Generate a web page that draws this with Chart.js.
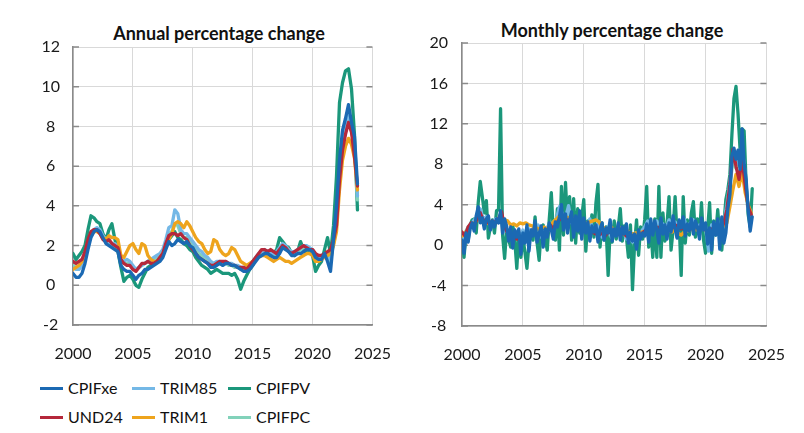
<!DOCTYPE html>
<html><head><meta charset="utf-8">
<script src="https://cdn.jsdelivr.net/npm/chart.js@4.4.1/dist/chart.umd.min.js"></script>
<style>
html,body{margin:0;padding:0;background:#fff;width:804px;height:433px;overflow:hidden;font-family:Lato,sans-serif;color:#111}
canvas{position:absolute;top:0}
.title{position:absolute;width:400px;text-align:center;font-weight:bold;font-size:18px;line-height:20px;color:#111}
.leg{position:absolute;font-size:16px;line-height:20px;color:#111;white-space:nowrap}
.leg span.sw{position:absolute;width:23px;height:3px;top:9px}
.leg span.tx{position:absolute;left:28px;top:0}
</style></head><body>
<div class="title" id="t1" style="left:19px;top:23px">Annual percentage change</div>
<div class="title" id="t2" style="left:412px;top:20px">Monthly percentage change</div>
<canvas id="c1" width="410" height="372" style="left:0"></canvas>
<canvas id="c2" width="394" height="372" style="left:410px"></canvas>
<div id="legend"></div>
<script>
// ---- names / colours ----
const seriesNames = ['CPIFxe','TRIM85','CPIFPV','UND24','TRIM1','CPIFPC'];
const xTicks = [2000,2005,2010,2015,2020,2025];
const annualTicks = [-2,0,2,4,6,8,10,12];
const monthlyTicks = [-8,-4,0,4,8,12,16,20];

// ---- Annual percentage change (quarterly readings, 2000Q1..2023Q4) ----
const annCPIFxe = [
0.6,0.4,0.4,0.6, 1.1,1.8,2.4,2.7, 2.8,2.7,2.4,2.1, 2.0,1.9,1.8,1.7,
1.0,0.8,0.7,0.7, 0.5,0.3,0.5,0.6, 0.8,0.8,0.9,1.0, 1.1,1.2,1.4,1.8,
2.2,2.0,2.1,2.3, 2.2,2.1,2.2,2.0, 1.9,1.6,1.4,1.3, 1.2,1.1,0.9,0.9,
1.0,1.1,1.0,1.1, 1.1,1.0,1.0,0.9, 0.8,0.7,0.7,0.8, 1.0,1.2,1.4,1.5,
1.6,1.6,1.5,1.4, 1.4,1.6,1.9,1.8, 1.7,1.5,1.5,1.6, 1.6,1.7,1.8,1.8,
1.7,1.4,1.3,1.3, 1.6,1.2,0.7,2.3, 4.0,6.3,7.8,8.4, 9.1,8.2,7.5,5.1];
const annTRIM85 = [
0.9,0.8,0.8,1.0, 1.4,2.0,2.5,2.8, 2.9,2.8,2.5,2.3, 2.2,2.1,2.1,1.9,
1.3,1.2,1.3,1.2, 1.0,0.8,0.9,1.0, 1.1,1.2,1.3,1.4, 1.5,1.6,1.8,2.3,
2.9,3.0,3.8,3.6, 2.8,2.6,2.6,2.4, 2.2,2.0,1.8,1.7, 1.5,1.4,1.2,1.1,
1.2,1.2,1.1,1.2, 1.1,1.1,1.0,1.0, 0.9,0.9,0.9,1.0, 1.2,1.4,1.6,1.7,
1.8,1.7,1.6,1.6, 1.7,1.9,2.1,2.0, 1.8,1.7,1.7,1.8, 1.9,2.0,2.0,1.9,
1.8,1.5,1.4,1.4, 1.6,1.5,1.3,2.2, 3.3,5.6,7.0,7.9, 8.6,7.9,7.1,4.5];
const annCPIFPV = [
1.6,1.3,1.5,1.7, 2.0,2.8,3.5,3.4, 3.2,3.1,2.6,2.3, 2.8,3.1,2.3,1.7,
0.9,0.2,0.4,0.5, 0.3,0.0,-0.1,0.3, 0.6,0.9,1.0,1.1, 1.2,1.4,1.6,2.0,
2.3,2.5,2.7,2.4, 2.3,2.1,2.0,1.8, 1.7,1.4,1.2,1.0, 0.9,0.8,0.6,0.7,
0.8,0.7,0.6,0.6, 0.6,0.5,0.6,0.3, -0.2,0.2,0.5,0.8, 1.0,1.3,1.5,1.6,
1.7,1.6,1.5,1.6, 1.8,2.4,2.2,2.0, 1.9,1.6,1.5,1.7, 2.2,1.8,1.6,1.7,
1.5,0.7,1.0,1.2, 1.8,2.4,1.6,3.0, 5.5,9.2,10.2,10.8, 10.9,9.9,7.6,3.8];
const annUND24 = [
1.2,1.1,1.2,1.3, 1.7,2.3,2.7,2.8, 2.8,2.6,2.3,2.2, 2.3,2.1,2.0,1.9,
1.3,1.1,1.0,1.0, 0.8,0.7,0.9,1.1, 1.1,1.2,1.1,1.1, 1.2,1.4,1.6,2.1,
2.5,2.6,2.6,2.5, 2.6,2.4,2.3,2.0, 1.8,1.6,1.4,1.3, 1.2,1.1,1.0,1.0,
1.1,1.2,1.2,1.2, 1.1,1.0,1.0,0.9, 0.9,0.9,0.8,1.0, 1.2,1.4,1.6,1.8,
1.8,1.7,1.8,1.7, 1.6,1.8,2.0,1.9, 1.7,1.6,1.7,1.8, 1.9,2.0,1.9,1.8,
1.8,1.6,1.5,1.5, 1.6,1.7,1.8,2.3, 3.0,5.3,6.8,7.6, 8.2,7.7,6.5,5.0];
const annTRIM1 = [
0.8,0.9,1.0,1.2, 1.6,2.2,2.6,2.7, 2.7,2.6,2.4,2.3, 2.5,2.4,2.4,2.3,
1.5,1.4,1.7,2.0, 2.1,1.8,1.6,2.1, 2.0,1.5,1.3,1.2, 1.2,1.4,1.6,1.9,
2.3,2.6,3.1,3.2, 3.1,2.9,3.2,3.0, 2.7,2.4,2.2,2.1, 1.8,1.6,1.7,2.3,
2.2,1.8,1.6,1.5, 1.6,1.9,1.8,1.5, 1.2,1.1,1.0,1.1, 1.2,1.3,1.4,1.5,
1.5,1.4,1.3,1.2, 1.3,1.4,1.3,1.2, 1.2,1.1,1.2,1.3, 1.4,1.5,1.6,1.6,
1.5,1.2,1.2,1.3, 1.4,1.5,1.6,2.0, 2.7,4.8,6.3,7.0, 7.4,7.1,6.4,4.8];
const annCPIFPC = [
1.0,0.9,0.9,1.1, 1.5,2.1,2.6,2.8, 2.8,2.7,2.4,2.2, 2.1,2.0,1.9,1.8,
1.2,1.1,1.1,1.1, 0.9,0.8,0.9,1.0, 1.1,1.2,1.2,1.3, 1.4,1.5,1.7,2.1,
2.6,2.7,3.1,3.0, 2.6,2.4,2.4,2.2, 2.0,1.8,1.6,1.5, 1.4,1.3,1.1,1.0,
1.1,1.1,1.0,1.1, 1.0,1.0,0.9,0.9, 0.8,0.8,0.8,0.9, 1.1,1.3,1.5,1.6,
1.7,1.6,1.6,1.5, 1.6,1.8,2.0,1.9, 1.8,1.6,1.6,1.7, 1.8,1.9,1.9,1.8,
1.7,1.4,1.3,1.3, 1.5,1.4,1.2,2.1, 3.2,5.5,6.9,7.8, 8.5,7.8,7.0,4.3];

// ---- Monthly percentage change ----
// bimonthly readings (2000 Jan..2023 Nov)
const monCPIFxe = [
0.5,-0.8,1.2,0.3,1.6,2.2,  1.4,2.9,3.8,2.2,2.7,1.6,  2.6,2.9,1.5,2.4,1.8,2.6,
2.2,3.4,1.2,2.6,1.9,0.4,  1.8,-0.3,1.5,0.8,1.6,-0.9, 1.2,0.2,2.0,-0.6,1.5,0.9,
2.4,0.3,1.1,1.9,-0.2,1.6, 0.8,2.2,1.5,0.6,2.3,1.8,  2.8,4.0,1.5,3.1,1.2,2.5,
3.3,0.8,2.9,1.4,3.4,0.6,  2.7,1.2,2.3,0.4,1.9,1.3,  2.0,0.3,1.6,2.2,0.5,1.7,
1.2,2.5,0.4,1.6,0.9,2.2,  0.5,1.8,1.1,2.1,0.2,1.3,  0.4,1.1,-0.4,1.5,0.6,1.2,
0.9,2.1,0.3,2.6,1.0,2.4,  1.5,0.2,2.7,1.1,2.0,0.6,  2.2,1.3,2.9,1.6,0.7,2.5,
1.7,2.8,0.9,2.1,1.4,2.6,  1.1,2.4,1.8,0.6,2.7,1.5,  2.2,0.1,1.7,-0.5,2.3,1.0,
2.6,-0.4,2.8,0.2,1.2,3.6, 5.0,8.8,9.6,8.5,9.4,7.5,  11.5,8.0,6.5,3.5,1.4,2.8];
const monCPIFPV = [
0.8,-1.2,1.3,0.4,2.0,2.5,  2.6,1.2,4.2,6.3,4.8,3.2,  4.4,0.7,1.8,2.5,1.2,3.4,
3.5,13.5,1.0,-1.3,1.6,0.5, -0.2,2.0,0.5,-2.3,1.2,-1.2, 0.8,-0.7,-2.3,0.2,1.4,0.5,
2.8,0.2,-1.5,1.5,2.0,0.6,  -0.5,2.6,5.2,1.3,0.5,3.6, -0.5,5.8,1.0,6.2,2.0,4.8,
0.5,4.6,0.2,3.6,1.2,2.8,   4.5,-0.6,2.4,1.0,3.0,0.8, 4.2,6.0,-0.2,2.2,0.5,1.8,
-3.0,1.5,0.3,2.4,0.6,1.8,  3.6,0.4,1.9,0.8,-1.2,2.0, -4.4,0.0,2.5,-1.0,1.8,0.6,
2.5,5.8,-0.2,1.9,-1.2,2.6, -1.2,5.8,-1.2,3.2,0.4,2.0, 4.8,-0.5,1.5,4.8,0.8,2.2,
-3.0,4.8,0.2,2.5,1.0,3.2,  4.3,0.8,2.6,1.0,4.2,0.5,  -0.8,1.5,4.2,-0.8,2.4,1.0,
3.5,1.0,-0.5,2.0,4.5,5.5,  7.0,11.0,14.5,15.7,13.0,9.5, 11.5,11.3,6.0,3.0,1.8,5.6];
// quarterly readings (2000Q1..2023Q4)
const monTRIM85 = [
0.2,1.0,1.6,2.0, 2.5,2.8,3.6,2.6, 2.8,2.0,2.3,2.6, 2.4,2.9,1.4,1.5,
1.2,0.8,1.3,0.6, 1.5,0.4,1.6,1.0, 1.4,2.0,0.8,1.3, 1.8,1.5,2.3,2.6,
3.8,3.1,2.7,3.9, 2.2,2.6,1.8,2.4, 2.1,1.8,2.6,1.5, 1.2,2.3,0.8,1.5,
1.8,0.8,1.4,1.2, 0.9,1.6,0.6,1.0, 0.3,1.2,0.9,1.4, 1.8,2.4,1.2,1.9,
2.4,1.3,2.1,1.6, 2.5,1.7,2.3,1.8, 2.0,2.6,1.4,2.2, 2.5,1.6,2.0,1.7,
1.9,-0.6,2.0,1.2, 2.4,0.8,2.3,4.0, 6.2,9.0,8.0,8.6, 9.8,7.0,3.5,2.4];
const monUND24 = [
1.3,0.9,1.8,2.2, 2.0,2.6,3.2,2.4, 2.5,2.1,2.4,2.2, 2.6,3.3,1.8,1.2,
1.0,0.8,0.6,0.9, 0.7,0.5,0.8,1.5, 1.2,1.0,1.1,1.2, 1.3,2.0,1.6,2.2,
2.5,2.8,2.6,2.4, 2.7,2.3,2.1,1.8, 1.6,1.4,1.5,1.3, 1.1,1.0,1.2,0.9,
1.3,1.2,1.1,1.2, 1.0,1.2,0.9,0.8, 0.9,0.7,1.0,1.1, 1.4,1.6,1.5,1.9,
1.7,1.8,1.5,1.6, 1.9,1.7,2.0,1.8, 1.6,1.8,1.7,1.9, 2.0,1.8,1.6,1.7,
1.5,1.3,1.6,1.4, 1.8,1.5,2.2,3.5, 6.0,9.5,7.8,6.5, 8.5,6.0,3.8,3.0];
const monTRIM1 = [
0.9,1.2,1.5,1.9, 2.2,2.5,2.6,2.3, 2.2,2.1,2.3,2.2, 2.3,2.4,2.5,2.4,
2.0,2.1,1.9,2.2, 2.1,2.2,2.0,1.9, 1.8,1.6,1.7,1.8, 1.5,1.9,2.3,2.6,
2.9,3.0,2.8,2.7, 2.6,2.4,2.2,2.1, 2.0,2.2,2.3,2.4, 2.5,2.3,1.8,1.7,
1.6,1.8,1.5,1.4, 1.7,1.6,1.5,1.3, 1.1,1.2,1.2,1.3, 1.3,1.5,1.4,1.6,
1.8,1.6,1.5,1.4, 1.4,1.3,1.5,1.2, 1.0,1.3,1.4,1.5, 1.6,1.5,1.7,1.6,
1.5,1.2,1.4,1.3, 1.5,1.7,1.9,2.2, 3.8,5.5,7.0,5.8, 7.3,5.2,4.0,3.2];
const monCPIFPC = [
0.6,1.2,1.8,2.1, 2.2,2.9,3.3,2.5, 2.6,2.2,2.1,2.4, 2.3,2.7,1.6,1.3,
1.1,0.9,1.1,0.7, 1.2,0.5,1.3,1.1, 1.2,1.7,1.0,1.2, 1.6,1.7,2.0,2.4,
3.2,2.9,2.6,3.3, 2.4,2.3,1.9,2.2, 1.9,1.6,2.2,1.4, 1.3,1.9,0.9,1.3,
1.5,1.0,1.3,1.1, 1.0,1.4,0.7,0.9, 0.5,1.0,0.9,1.2, 1.6,2.1,1.3,1.8,
2.1,1.4,1.9,1.5, 2.2,1.8,2.1,1.7, 1.9,2.3,1.5,2.0, 2.2,1.7,1.9,1.8,
1.7,0.2,1.8,1.3, 2.1,1.0,2.0,3.6, 5.8,8.4,7.6,8.0, 9.0,6.5,3.8,2.6];

const colors = {CPIFxe:'#1b69b3', TRIM85:'#74b8e6', CPIFPV:'#1b977b', UND24:'#b5283b', TRIM1:'#eea41d', CPIFPC:'#82d2ba'};

// dates for each reading: start 2000, steps per year
function pts(vals, perYear){ return vals.map((v,i)=>({x:2000+i/perYear, y:v})); }
function ds(name, vals, perYear){
  return {label:name, data:pts(vals,perYear), borderColor:colors[name], backgroundColor:colors[name],
          borderWidth:3.3, pointRadius:0, tension:0, fill:false, borderJoinStyle:'round', borderCapStyle:'round'};
}

const innerTicks = {
  id:'innerTicks',
  beforeDatasetsDraw(chart){
    const {ctx, chartArea:a, scales:{y}} = chart;
    ctx.save(); ctx.strokeStyle='#8a8a8a'; ctx.lineWidth=1.5;
    y.ticks.forEach(t=>{
      const py = y.getPixelForValue(t.value);
      ctx.beginPath();
      ctx.moveTo(a.left, py); ctx.lineTo(a.left+6, py);
      ctx.moveTo(a.right-6, py); ctx.lineTo(a.right, py);
      ctx.stroke();
    });
    ctx.restore();
  }
};

Chart.defaults.font.family = 'Lato, sans-serif';
Chart.defaults.font.size = 16;
Chart.defaults.color = '#1a1a1a';

function makeChart(id, datasets, yTicks, pad, yWidth, xHeight, tickPad){
  return new Chart(document.getElementById(id), {
    type:'line',
    data:{datasets},
    options:{
      responsive:false, animation:false, devicePixelRatio:1,
      layout:{padding:pad},
      plugins:{legend:{display:false}, tooltip:{enabled:false}},
      scales:{
        x:{type:'linear', min:xTicks[0], max:xTicks[xTicks.length-1],
           afterBuildTicks:s=>{s.ticks = xTicks.map(v=>({value:v}));},
           afterFit:s=>{s.height = xHeight;},
           ticks:{callback:v=>String(v), padding:19, maxRotation:0, autoSkip:false},
           grid:{color:'#d9d9d9', lineWidth:1, drawTicks:false},
           border:{color:'#8a8a8a', width:1.5}},
        y:{min:yTicks[0], max:yTicks[yTicks.length-1],
           afterBuildTicks:s=>{s.ticks = yTicks.map(v=>({value:v}));},
           afterFit:s=>{s.width = yWidth;},
           ticks:{callback:v=>String(v), padding:tickPad, crossAlign:'center', autoSkip:false},
           grid:{color:'#d9d9d9', lineWidth:1, drawTicks:false},
           border:{color:'#8a8a8a', width:1.5}}
      }
    },
    plugins:[innerTicks]
  });
}

// draw order: first dataset on top
makeChart('c1', [
  ds('CPIFxe', annCPIFxe, 4), ds('UND24', annUND24, 4), ds('TRIM1', annTRIM1, 4),
  ds('TRIM85', annTRIM85, 4), ds('CPIFPC', annCPIFPC, 4), ds('CPIFPV', annCPIFPV, 4)
], annualTicks, {top:47, right:25, left:0, bottom:0}, 73, 47, 13);

makeChart('c2', [
  ds('CPIFxe', monCPIFxe, 6), ds('UND24', monUND24, 4), ds('TRIM1', monTRIM1, 4),
  ds('TRIM85', monTRIM85, 4), ds('CPIFPC', monCPIFPC, 4), ds('CPIFPV', monCPIFPV, 6)
], monthlyTicks, {top:43, right:24, left:0, bottom:0}, 52, 46, 14);

// legend (3 columns x 2 rows, as in the reference)
const legPos = [[40,378],[132,378],[228,378],[40,407],[132,407],[228,407]];
const legEl = document.getElementById('legend');
seriesNames.forEach((n,i)=>{
  const d = document.createElement('div');
  d.className='leg'; d.style.left=legPos[i][0]+'px'; d.style.top=legPos[i][1]+'px';
  d.innerHTML = '<span class="sw" style="background:'+colors[n]+'"></span><span class="tx">'+n+'</span>';
  legEl.appendChild(d);
});
</script>
</body></html>
